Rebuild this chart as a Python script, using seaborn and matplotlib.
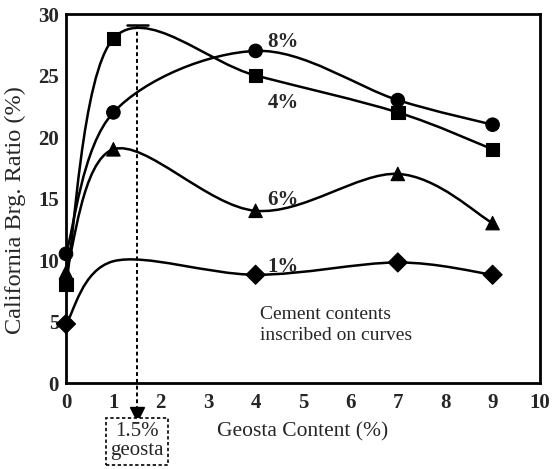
import matplotlib
matplotlib.use("Agg")
import matplotlib.pyplot as plt
from matplotlib.path import Path
from matplotlib.patches import PathPatch
import seaborn as sns
import pandas as pd
import numpy as np

# data (geosta content %, CBR %)
geosta = [0, 1, 4, 7, 9]
cbr_8 = [10.5, 22.0, 27.0, 23.0, 21.0]
cbr_4 = [8.0, 28.0, 25.0, 22.0, 19.0]
cbr_6 = [9.0, 19.0, 14.0, 17.0, 13.0]
cbr_1 = [4.8, 9.9, 8.8, 9.8, 8.8]
show_1 = [True, False, True, True, True]   # 1% curve has no marker at x=1

cement = ["8%", "4%", "6%", "1%"]
markers = {"8%": "o", "4%": "s", "6%": "^", "1%": "D"}
label_y = {"8%": 27.7, "4%": 22.8, "6%": 14.9, "1%": 9.4}

rows = []
for c, vals in zip(cement, [cbr_8, cbr_4, cbr_6, cbr_1]):
    for i, (g, v) in enumerate(zip(geosta, vals)):
        shown = show_1[i] if c == "1%" else True
        rows.append({"geosta": g, "cbr": v, "cement": c, "shown": shown})
df = pd.DataFrame(rows)

sns.set_theme(style="white")
plt.rcParams['font.family'] = ['Liberation Serif', 'DejaVu Serif']


def smooth_path(xs, ys):
    # excel-like smoothed line: cubic bezier through the points
    p = np.column_stack([xs, ys]).astype(float)
    verts = [p[0]]
    codes = [Path.MOVETO]
    n = len(p)
    for i in range(n - 1):
        p0 = p[i - 1] if i > 0 else p[i]
        p1, p2 = p[i], p[i + 1]
        p3 = p[i + 2] if i + 2 < n else p[i + 1]
        verts += [p1 + (p2 - p0) / 6, p2 - (p3 - p1) / 6, p2]
        codes += [Path.CURVE4] * 3
    return Path(verts, codes)


fig = plt.figure(figsize=(5.52, 4.69), dpi=100)
ax = fig.add_axes([66 / 552, 1 - 383 / 469, 474 / 552, 369 / 469])

for c, vals in zip(cement, [cbr_8, cbr_4, cbr_6, cbr_1]):
    ax.add_patch(PathPatch(smooth_path(geosta, vals), fill=False,
                           edgecolor="black", lw=1.8, zorder=2))

sns.scatterplot(data=df[df["shown"]], x="geosta", y="cbr", style="cement",
                markers=markers, color="black", s=95, edgecolor="black",
                legend=False, ax=ax, zorder=3, clip_on=False)

for c in cement:
    ax.text(4.25, label_y[c], c, fontsize=15, fontweight="bold",
            ha="left", va="center")

ax.text(4.1, 4.7, "Cement contents\ninscribed on curves", fontsize=14,
        ha="left", va="center", linespacing=1.3)

# 1.5% geosta marker line
ax.plot([1.5, 1.5], [29.1, -2.3], color="black", lw=1.4, ls=(0, (2, 1.5)),
        clip_on=False, zorder=2)
ax.plot([1.28, 1.73], [29.1, 29.1], color="black", lw=1.8, clip_on=False)
ax.plot([1.5], [-2.5], marker="v", color="black", ms=10, clip_on=False)
ax.text(1.5, -4.75, "1.5%\ngeosta", fontsize=15, ha="center", va="center",
        linespacing=1.0,
        bbox=dict(boxstyle="square,pad=0.2", fc="white", ec="black",
                  ls=(0, (2, 1.5)), lw=1.2), clip_on=False)

ax.set_xlim(0, 10)
ax.set_ylim(0, 30)
ax.set_xticks(range(0, 11))
ax.set_yticks(range(0, 31, 5))
ax.tick_params(axis="x", direction="in", length=4, width=1.6, labelsize=15, pad=7)
ax.tick_params(axis="y", direction="out", length=4, width=1.6, labelsize=15, pad=1)
for t in ax.get_xticklabels() + ax.get_yticklabels():
    t.set_fontweight("bold")
for s in ax.spines.values():
    s.set_color("black")
    s.set_linewidth(2)

ax.set_xlabel("Geosta Content (%)", fontsize=15.5)
ax.set_ylabel("California Brg. Ratio (%)", fontsize=17.5)
ax.xaxis.set_label_coords(237 / 474, -0.105)
ax.yaxis.set_label_coords(-0.085, 0.47)

fig.savefig("out.png", dpi=100)
